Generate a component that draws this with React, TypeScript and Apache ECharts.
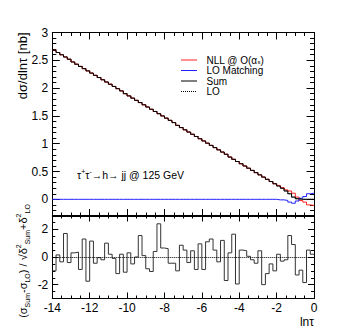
import React, { useEffect, useRef } from 'react';
import * as echarts from 'echarts';

const xMin = -14;
const xMax = 0;
const binWidth = 0.2;

const topYLabelValues = [0, 0.5, 1, 1.5, 2, 2.5, 3];
const pullLabelValues = [-2, 0, 2];

const loValues = [
  2.68, 2.64, 2.6, 2.56, 2.52, 2.47, 2.43, 2.39, 2.35, 2.31,
  2.27, 2.23, 2.19, 2.15, 2.11, 2.07, 2.03, 1.99, 1.95, 1.9,
  1.86, 1.82, 1.78, 1.74, 1.7, 1.66, 1.62, 1.58, 1.54, 1.5,
  1.46, 1.42, 1.38, 1.33, 1.29, 1.25, 1.21, 1.17, 1.13, 1.09,
  1.05, 1.01, 0.97, 0.93, 0.89, 0.85, 0.81, 0.76, 0.72, 0.68,
  0.64, 0.6, 0.56, 0.52, 0.48, 0.44, 0.4, 0.36, 0.32, 0.28,
  0.24, 0.2, 0.15, 0.1, 0.04, 0.01, 0.0, 0.0, 0.0, 0.0,
];

const sumValues = [
  2.68, 2.64, 2.6, 2.56, 2.52, 2.47, 2.43, 2.39, 2.35, 2.31,
  2.27, 2.23, 2.19, 2.15, 2.11, 2.07, 2.03, 1.99, 1.95, 1.9,
  1.86, 1.82, 1.78, 1.74, 1.7, 1.66, 1.62, 1.58, 1.54, 1.5,
  1.46, 1.42, 1.38, 1.33, 1.29, 1.25, 1.21, 1.17, 1.13, 1.09,
  1.05, 1.01, 0.97, 0.93, 0.89, 0.85, 0.81, 0.76, 0.72, 0.68,
  0.64, 0.6, 0.56, 0.52, 0.48, 0.44, 0.4, 0.36, 0.32, 0.28,
  0.24, 0.2, 0.15, 0.1, 0.04, 0.01, 0.0, 0.0, 0.0, 0.0,
];

const nllValues = [
  2.68, 2.64, 2.6, 2.56, 2.52, 2.47, 2.43, 2.39, 2.35, 2.31,
  2.27, 2.23, 2.19, 2.15, 2.11, 2.07, 2.03, 1.99, 1.95, 1.9,
  1.86, 1.82, 1.78, 1.74, 1.7, 1.66, 1.62, 1.58, 1.54, 1.5,
  1.46, 1.42, 1.38, 1.33, 1.29, 1.25, 1.21, 1.17, 1.13, 1.09,
  1.05, 1.01, 0.97, 0.93, 0.89, 0.85, 0.81, 0.76, 0.72, 0.68,
  0.64, 0.6, 0.56, 0.52, 0.48, 0.44, 0.4, 0.36, 0.32, 0.28,
  0.25, 0.21, 0.17, 0.15, 0.11, 0.04, -0.02, -0.05, -0.1, -0.11,
];

const matchingValues = [
  0, 0, 0, 0, 0, 0, 0, 0, 0, 0,
  0, 0, 0, 0, 0, 0, 0, 0, 0, 0,
  0, 0, 0, 0, 0, 0, 0, 0, 0, 0,
  0, 0, 0, 0, 0, 0, 0, 0, 0, 0,
  0, 0, 0, 0, 0, 0, 0, 0, 0, 0,
  0, 0, 0, 0, 0, 0, 0, 0, 0, 0,
  -0.01, -0.01, -0.02, -0.05, -0.07, -0.03, 0.02, 0.05, 0.1, 0.11,
];

const pullValues = [
  -1.0, 0.15, -0.35, 1.7, -0.4, 0.3, 0.35, -0.9, 1.3, -1.75,
  1.15, -0.45, -0.05, -0.2, 1.0, 0.2, -0.1, -1.2, 0.2, -1.1,
  0.3, -0.5, 0.0, 1.55, 0.1, -0.85, -1.05, 0.4, 2.4, 0.65,
  0.6, -0.45, -0.45, -1.0, 0.85, 0.5, -0.4, 0.45, -0.9, 0.95,
  -0.9, 1.1, 1.3, 0.5, -0.35, 1.2, -1.7, 0.3, 1.65, -1.95,
  0.5, 0.45, 0.05, -0.2, -0.45, 0.45, -2.0, -1.2, -0.5, -1.0,
  0.2, -0.3, -0.2, 1.55, 0.9, -1.3, -0.95, -1.85, 0.5, 0.2,
];

const FONT = "'Liberation Sans', Arial, sans-serif";

function hist(values: number[]) {
  const d = values.map((v, i) => [xMin + i * binWidth, v]);
  d.push([xMax, values[values.length - 1]]);
  return d;
}

function xAx(grid: number, pos: string, major: boolean, labels: boolean) {
  return {
    type: 'value',
    gridIndex: grid,
    position: pos,
    min: xMin,
    max: xMax,
    interval: major ? 2 : 0.5,
    axisLine: { show: major, onZero: false, lineStyle: { color: '#000', width: 1 } },
    axisTick: {
      show: true,
      inside: true,
      length: major ? (grid === 0 ? 7 : 6) : grid === 0 ? 3.5 : 3,
      lineStyle: { color: '#000', width: 1 },
    },
    axisLabel: { show: labels, color: '#000', fontFamily: FONT, fontSize: 12, margin: 3 },
    splitLine: { show: false },
  };
}

function yAx(grid: number, pos: string, major: boolean, labels: boolean) {
  const isTop = grid === 0;
  const min = isTop ? -0.3 : -3;
  const max = 3;
  const custom = isTop ? topYLabelValues : pullLabelValues;
  const base: any = {
    type: 'value',
    gridIndex: grid,
    position: pos,
    min,
    max,
    axisLine: { show: major, onZero: false, lineStyle: { color: '#000', width: 1 } },
    splitLine: { show: false },
  };
  if (major) {
    base.axisTick = {
      show: true,
      inside: true,
      length: isTop ? 7.5 : 6,
      customValues: custom,
      lineStyle: { color: '#000', width: 1 },
    };
    base.axisLabel = {
      show: labels,
      customValues: custom,
      color: '#000',
      fontFamily: FONT,
      fontSize: 12,
      margin: 4,
    };
  } else {
    base.interval = isTop ? 0.1 : 0.5;
    base.axisTick = {
      show: true,
      inside: true,
      length: isTop ? 4 : 3,
      lineStyle: { color: '#000', width: 1 },
    };
    base.axisLabel = { show: false };
  }
  return base;
}

function legendText(text: string, y: number, rich?: any) {
  return {
    type: 'text',
    x: 206.5,
    y,
    style: {
      text,
      fontFamily: FONT,
      fontSize: 10,
      fill: '#000',
      verticalAlign: 'middle',
      lineHeight: 10,
      ...(rich ? { rich } : {}),
    },
  };
}

export default function App() {
  const ref = useRef<HTMLDivElement>(null);
  useEffect(() => {
    if (!ref.current) return;
    const chart = echarts.init(ref.current, null, { renderer: 'svg' });
    const gl = 52.3;
    const gw = 261.7;
    const option: any = {
      animation: false,
      backgroundColor: '#fff',
      grid: [
        { left: gl, top: 32.5, width: gw, height: 183.5 },
        { left: gl, top: 215.5, width: gw, height: 83 },
      ],
      xAxis: [
        xAx(0, 'bottom', true, false),
        xAx(0, 'bottom', false, false),
        xAx(0, 'top', true, false),
        xAx(0, 'top', false, false),
        xAx(1, 'bottom', true, true),
        xAx(1, 'bottom', false, false),
        xAx(1, 'top', true, false),
        xAx(1, 'top', false, false),
      ],
      yAxis: [
        yAx(0, 'left', true, true),
        yAx(0, 'left', false, false),
        yAx(0, 'right', true, false),
        yAx(0, 'right', false, false),
        yAx(1, 'left', true, true),
        yAx(1, 'left', false, false),
        yAx(1, 'right', true, false),
        yAx(1, 'right', false, false),
      ],
      series: [
        {
          name: 'LO',
          type: 'line',
          xAxisIndex: 0,
          yAxisIndex: 0,
          step: 'end',
          symbol: 'none',
          data: hist(loValues),
          lineStyle: { color: '#000', width: 1, type: 'dotted' },
        },
        {
          name: 'NLL',
          type: 'line',
          xAxisIndex: 0,
          yAxisIndex: 0,
          step: 'end',
          symbol: 'none',
          data: hist(nllValues),
          lineStyle: { color: '#ff2020', width: 1 },
        },
        {
          name: 'LO Matching',
          type: 'line',
          xAxisIndex: 0,
          yAxisIndex: 0,
          step: 'end',
          symbol: 'none',
          data: hist(matchingValues),
          lineStyle: { color: '#2020ff', width: 1 },
        },
        {
          name: 'Sum',
          type: 'line',
          xAxisIndex: 0,
          yAxisIndex: 0,
          step: 'end',
          symbol: 'none',
          data: hist(sumValues),
          lineStyle: { color: '#000', width: 1 },
        },
        {
          name: 'pull',
          type: 'line',
          xAxisIndex: 4,
          yAxisIndex: 4,
          step: 'end',
          symbol: 'none',
          data: hist(pullValues),
          lineStyle: { color: '#333', width: 1 },
          markLine: {
            silent: true,
            symbol: ['none', 'none'],
            label: { show: false },
            lineStyle: { color: '#000', width: 1, type: 'dotted' },
            data: [{ yAxis: 0 }],
          },
        },
      ],
      graphic: [
        {
          type: 'text',
          x: 22,
          y: 32.5,
          rotation: Math.PI / 2,
          style: {
            text: 'dσ/dlnτ [nb]',
            fontFamily: FONT,
            fontSize: 13,
            fill: '#000',
            align: 'right',
            verticalAlign: 'middle',
          },
        },
        {
          type: 'text',
          x: 23,
          y: 261,
          rotation: Math.PI / 2,
          style: {
            text: '(σ{s|Sum}-σ{s|LO}) / √δ{p|2}{s|Sum}+δ{p|2}{s|LO}',
            fontFamily: FONT,
            fontSize: 11,
            fill: '#000',
            align: 'center',
            verticalAlign: 'middle',
            lineHeight: 16,
            rich: {
              s: { fontFamily: FONT, fontSize: 7, lineHeight: 8, verticalAlign: 'bottom', fill: '#000' },
              p: { fontFamily: FONT, fontSize: 7, lineHeight: 8, verticalAlign: 'top', fill: '#000' },
            },
          },
        },
        {
          type: 'text',
          x: 314,
          y: 321.5,
          style: {
            text: 'lnτ',
            fontFamily: FONT,
            fontSize: 12,
            fill: '#000',
            align: 'right',
            verticalAlign: 'middle',
            lineHeight: 12,
          },
        },
        {
          type: 'text',
          x: 77,
          y: 175,
          style: {
            text: 'τ{p|+}τ{p|-}→h→ jj @ 125 GeV',
            fontFamily: FONT,
            fontSize: 10.5,
            fill: '#000',
            align: 'left',
            verticalAlign: 'middle',
            lineHeight: 14,
            rich: {
              p: { fontFamily: FONT, fontSize: 7, lineHeight: 8, verticalAlign: 'top', fill: '#000' },
            },
          },
        },
        { type: 'line', shape: { x1: 181, y1: 60, x2: 197, y2: 60 }, style: { stroke: '#ff2020', lineWidth: 1 } },
        { type: 'line', shape: { x1: 181, y1: 70.5, x2: 197, y2: 70.5 }, style: { stroke: '#2020ff', lineWidth: 1 } },
        { type: 'line', shape: { x1: 181, y1: 81, x2: 197, y2: 81 }, style: { stroke: '#000', lineWidth: 1 } },
        { type: 'line', shape: { x1: 181, y1: 91.5, x2: 197, y2: 91.5 }, style: { stroke: '#000', lineWidth: 1, lineDash: [1, 1] } },
        legendText('NLL @ O(α{s|s})', 60, {
          s: { fontFamily: FONT, fontSize: 6, lineHeight: 6, verticalAlign: 'bottom', fill: '#000' },
        }),
        legendText('LO Matching', 70.5),
        legendText('Sum', 81),
        legendText('LO', 91.5),
      ],
    };
    chart.setOption(option);
    return () => chart.dispose();
  }, []);
  return (
    <div
      ref={ref}
      style={{ position: 'absolute', left: 0, top: 0, width: 349, height: 332, background: '#fff' }}
    />
  );
}
